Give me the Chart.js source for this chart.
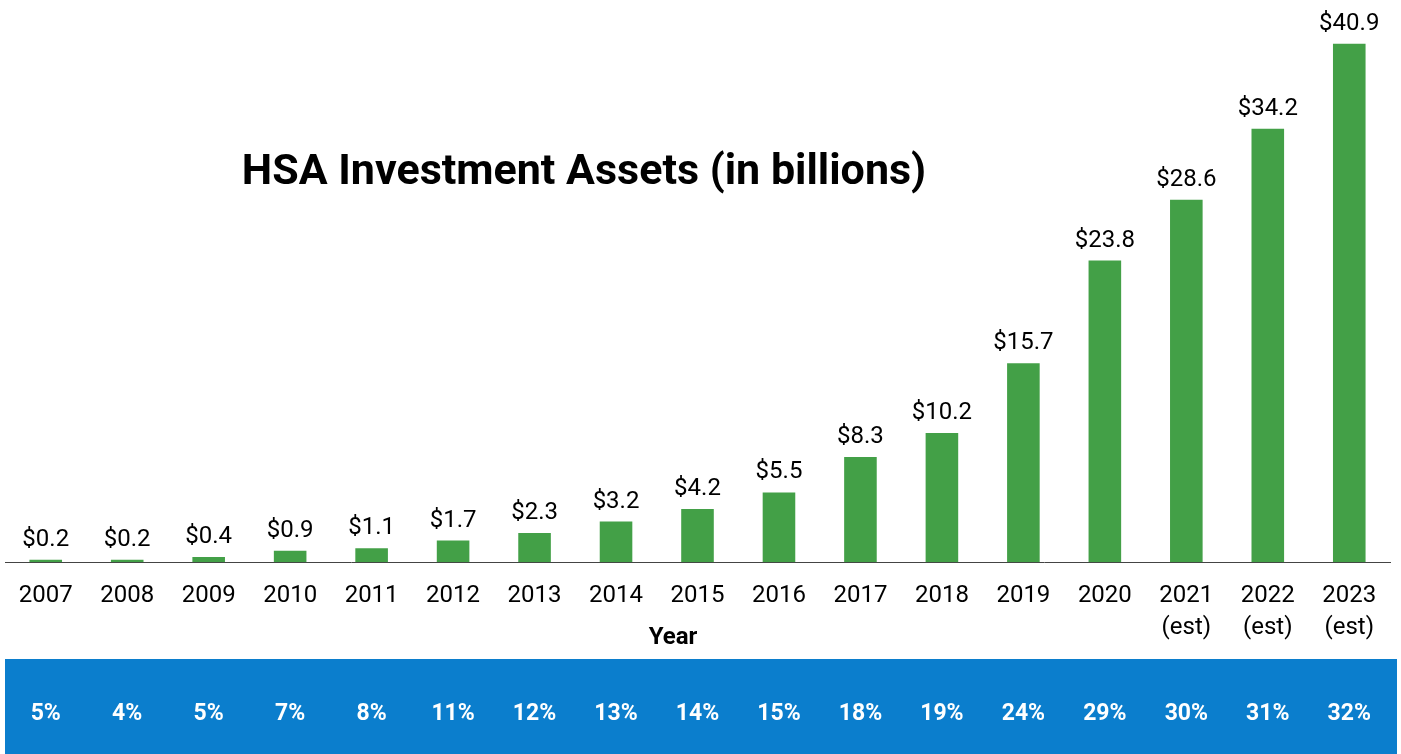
<!DOCTYPE html>
<html>
<head>
<meta charset="utf-8">
<script src="https://cdn.jsdelivr.net/npm/chart.js@4.4.1/dist/chart.umd.min.js"></script>
<style>
  html, body { margin: 0; padding: 0; background: #fff; }
  #wrap { width: 1401px; height: 754px; position: relative; }
</style>
</head>
<body>
<div id="wrap"><canvas id="hsaChart"></canvas></div>
<script>
const years = ['2007', '2008', '2009', '2010', '2011', '2012', '2013', '2014', '2015', '2016', '2017', '2018', '2019', '2020', ['2021', '(est)'], ['2022', '(est)'], ['2023', '(est)']];
const assets = [0.2, 0.2, 0.4, 0.9, 1.1, 1.7, 2.3, 3.2, 4.2, 5.5, 8.3, 10.2, 15.7, 23.8, 28.6, 34.2, 40.9];
const shares = ['5%', '4%', '5%', '7%', '8%', '11%', '12%', '13%', '14%', '15%', '18%', '19%', '24%', '29%', '30%', '31%', '32%'];

const GREEN = '#43a047';
const BLUE = '#0b7ecd';

// value labels, titles, and the blue percentage band
const extras = {
    id: 'extras',
    afterDatasetsDraw(chart) {
        const ctx = chart.ctx;
        const meta = chart.getDatasetMeta(0);
        const area = chart.chartArea;
        ctx.save();
        ctx.fillStyle = '#000';
        ctx.font = '24px Roboto';
        ctx.textAlign = 'center';
        ctx.textBaseline = 'alphabetic';
        meta.data.forEach((bar, i) => {
            ctx.fillText('$' + assets[i].toFixed(1), bar.x, bar.y - 14);
        });

        // chart title
        ctx.font = 'bold 43px Roboto';
        ctx.fillText('HSA Investment Assets (in billions)', 584, 184);

        // x axis title (sits a bit left of centre in the original)
        ctx.font = 'bold 24px Roboto';
        ctx.textBaseline = 'middle';
        ctx.fillText('Year', 673, area.bottom + 76);

        // band
        const x = chart.scales.x;
        ctx.fillStyle = BLUE;
        ctx.fillRect(5, 659, 1392, 95);
        ctx.fillStyle = '#fff';
        ctx.font = 'bold 23px Roboto';
        shares.forEach((s, i) => {
            ctx.fillText(s, x.getPixelForValue(i), 714);
        });
        ctx.restore();
    }
};

new Chart(document.getElementById('hsaChart'), {
    type: 'bar',
    data: {
        labels: years,
        datasets: [{
            data: assets,
            backgroundColor: GREEN,
            barPercentage: 0.4,
            categoryPercentage: 1
        }]
    },
    options: {
        responsive: true,
        maintainAspectRatio: false,
        animation: false,
        layout: { padding: { top: 4.5, left: 5, right: 11, bottom: 92 } },
        plugins: {
            legend: { display: false },
            tooltip: { enabled: false }
        },
        scales: {
            x: {
                grid: { display: false, drawTicks: false },
                border: { color: '#444', width: 1 },
                ticks: {
                    color: '#000',
                    padding: 18,
                    font: { family: 'Roboto', size: 24, lineHeight: 1.33 }
                }
            },
            y: {
                display: false,
                min: 0,
                max: 44
            }
        }
    },
    plugins: [extras]
});
</script>
</body>
</html>
